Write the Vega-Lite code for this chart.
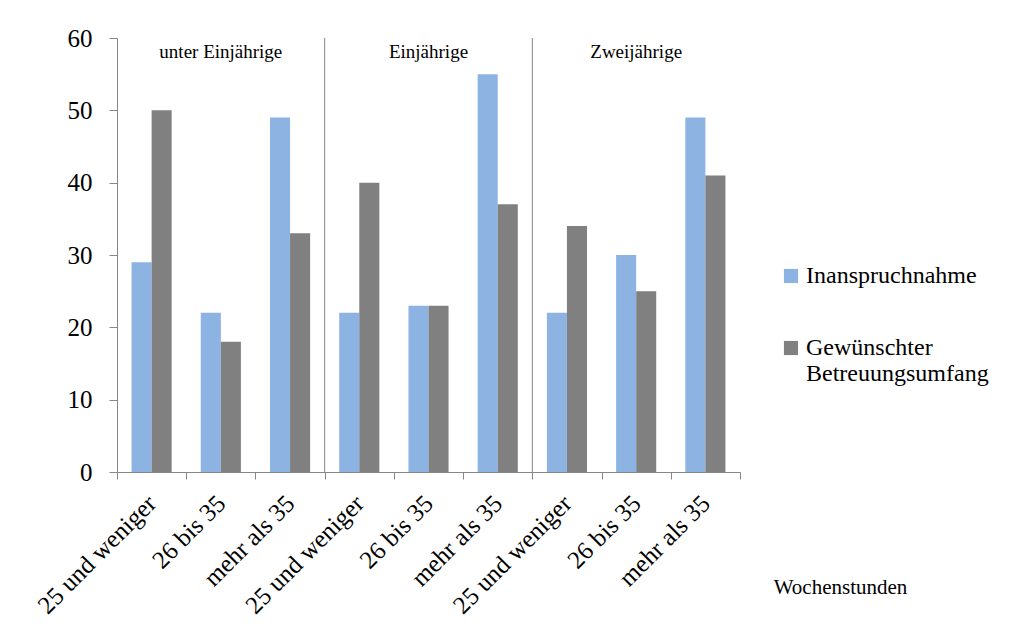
{
  "$schema": "https://vega.github.io/schema/vega-lite/v6.json",
  "width": 623,
  "height": 434,
  "autosize": {"type": "none"},
  "padding": {"left": 117, "top": 38, "right": 278, "bottom": 167},
  "background": "white",
  "config": {
    "font": "Liberation Serif",
    "view": {"stroke": null},
    "axis": {"labelFont": "Liberation Serif", "titleFont": "Liberation Serif", "labelColor": "black", "titleColor": "black", "domainColor": "#868686", "tickColor": "#868686", "grid": false},
    "legend": {"labelColor": "black"},
    "text": {"font": "Liberation Serif"}
  },
  "datasets": {
    "bars": [
      {"key": "1|25 und weniger", "serie": "Inanspruchnahme", "wert": 29},
      {"key": "1|25 und weniger", "serie": "Gewünschter Betreuungsumfang", "wert": 50},
      {"key": "2|26 bis 35", "serie": "Inanspruchnahme", "wert": 22},
      {"key": "2|26 bis 35", "serie": "Gewünschter Betreuungsumfang", "wert": 18},
      {"key": "3|mehr als 35", "serie": "Inanspruchnahme", "wert": 49},
      {"key": "3|mehr als 35", "serie": "Gewünschter Betreuungsumfang", "wert": 33},
      {"key": "4|25 und weniger", "serie": "Inanspruchnahme", "wert": 22},
      {"key": "4|25 und weniger", "serie": "Gewünschter Betreuungsumfang", "wert": 40},
      {"key": "5|26 bis 35", "serie": "Inanspruchnahme", "wert": 23},
      {"key": "5|26 bis 35", "serie": "Gewünschter Betreuungsumfang", "wert": 23},
      {"key": "6|mehr als 35", "serie": "Inanspruchnahme", "wert": 55},
      {"key": "6|mehr als 35", "serie": "Gewünschter Betreuungsumfang", "wert": 37},
      {"key": "7|25 und weniger", "serie": "Inanspruchnahme", "wert": 22},
      {"key": "7|25 und weniger", "serie": "Gewünschter Betreuungsumfang", "wert": 34},
      {"key": "8|26 bis 35", "serie": "Inanspruchnahme", "wert": 30},
      {"key": "8|26 bis 35", "serie": "Gewünschter Betreuungsumfang", "wert": 25},
      {"key": "9|mehr als 35", "serie": "Inanspruchnahme", "wert": 49},
      {"key": "9|mehr als 35", "serie": "Gewünschter Betreuungsumfang", "wert": 41}
    ],
    "groups": [
      {"key": "2|26 bis 35", "gruppe": "unter Einjährige"},
      {"key": "5|26 bis 35", "gruppe": "Einjährige"},
      {"key": "8|26 bis 35", "gruppe": "Zweijährige"}
    ],
    "seps": [
      {"key": "4|25 und weniger"},
      {"key": "7|25 und weniger"}
    ]
  },
  "layer": [
    {
      "data": {"name": "bars"},
      "mark": {"type": "bar"},
      "encoding": {
        "x": {
          "field": "key", "type": "nominal", "sort": null,
          "scale": {"paddingInner": 0, "paddingOuter": 0},
          "axis": {
            "title": "Wochenstunden",
            "titleFontSize": 21, "titleFontWeight": "normal",
            "titleX": 723, "titleY": 115, "titleAlign": "center", "titleBaseline": "middle",
            "labelExpr": "split(datum.label, '|')[1]",
            "labelAngle": -45, "labelAlign": "right", "labelBaseline": "middle",
            "labelFontSize": 25, "labelPadding": 20,
            "tickBand": "extent", "tickSize": 7, "labelOverlap": false
          }
        },
        "xOffset": {
          "field": "serie", "type": "nominal",
          "sort": ["Inanspruchnahme", "Gewünschter Betreuungsumfang"],
          "scale": {"paddingOuter": 0.725, "paddingInner": 0}
        },
        "y": {
          "field": "wert", "type": "quantitative",
          "scale": {"domain": [0, 60], "nice": false},
          "axis": {"title": null, "values": [0, 10, 20, 30, 40, 50, 60], "labelFont": "Times New Roman", "labelOverlap": false, "labelFontSize": 25, "tickSize": 8, "labelPadding": 17}
        },
        "color": {
          "field": "serie", "type": "nominal",
          "sort": ["Inanspruchnahme", "Gewünschter Betreuungsumfang"],
          "scale": {"range": ["#8DB3E2", "#808080"]},
          "legend": {
            "title": null, "orient": "none", "legendX": 662, "legendY": 226,
            "symbolType": "square", "symbolSize": 200, "symbolStrokeWidth": 0,
            "labelFont": "Times New Roman", "labelFontSize": 24, "labelColor": "black",
            "rowPadding": 48, "labelOffset": 3, "labelLimit": 300,
            "labelExpr": "datum.label == 'Gewünschter Betreuungsumfang' ? ['Gewünschter', 'Betreuungsumfang'] : datum.label"
          }
        }
      }
    },
    {
      "data": {"name": "seps"},
      "mark": {"type": "rule", "color": "#868686", "strokeWidth": 1},
      "encoding": {
        "x": {"field": "key", "type": "nominal", "sort": null, "bandPosition": 0},
        "y": {"datum": 0, "type": "quantitative"},
        "y2": {"datum": 60}
      }
    },
    {
      "data": {"name": "groups"},
      "mark": {"type": "text", "font": "Liberation Serif", "fontSize": 19, "baseline": "middle", "align": "center", "dy": 14, "color": "black"},
      "encoding": {
        "x": {"field": "key", "type": "nominal", "sort": null},
        "y": {"datum": 60, "type": "quantitative"},
        "text": {"field": "gruppe"}
      }
    }
  ]
}
